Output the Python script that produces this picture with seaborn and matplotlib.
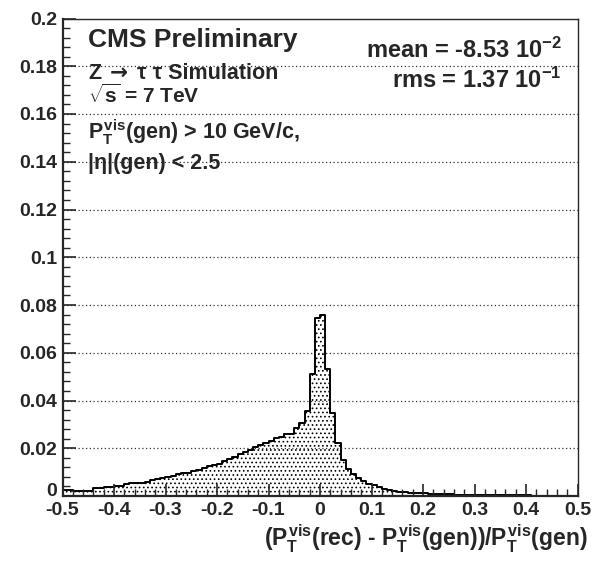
import numpy as np
import pandas as pd
import matplotlib
matplotlib.use("Agg")
import matplotlib.pyplot as plt
import seaborn as sns
from matplotlib.ticker import FixedLocator, MultipleLocator

# ---- data (bin contents) ----
bin_lo = -0.5
bin_hi = 0.5
n_bins = 100
bin_values = [
    0.0027, 0.0027, 0.0023, 0.0023, 0.0023, 0.0023, 0.0033, 0.0033, 0.0037, 0.0037,
    0.0043, 0.0043, 0.0050, 0.0054, 0.0054, 0.0054, 0.0058, 0.0068, 0.0072, 0.0075,
    0.0079, 0.0083, 0.0093, 0.0095, 0.0097, 0.0103, 0.0107, 0.0117, 0.0125, 0.0128,
    0.0135, 0.0146, 0.0156, 0.0164, 0.0177, 0.0186, 0.0194, 0.0205, 0.0212, 0.0221,
    0.0230, 0.0244, 0.0249, 0.0260, 0.0260, 0.0284, 0.0305, 0.0358, 0.0512, 0.0747,
    0.0757, 0.0533, 0.0347, 0.0221, 0.0152, 0.0114, 0.0093, 0.0075, 0.0062, 0.0051,
    0.0044, 0.0036, 0.0030, 0.0026, 0.0023, 0.0018, 0.0015, 0.0013, 0.0012, 0.0012,
    0.0012, 0.0008, 0.0008, 0.0008, 0.0008, 0.0008, 0.0004, 0.0004, 0.0004, 0.0004,
    0.0004, 0.0004, 0.0004, 0.0004, 0.0004, 0.0004, 0.0004, 0.0004, 0.0004, 0.0004,
    0.0004, 0.0, 0.0, 0.0, 0.0, 0.0, 0.0, 0.0, 0.0, 0.0,
]
x_ticks = [-0.5, -0.4, -0.3, -0.2, -0.1, 0.0, 0.1, 0.2, 0.3, 0.4, 0.5]
x_tick_labels = ["-0.5", "-0.4", "-0.3", "-0.2", "-0.1", "0", "0.1", "0.2", "0.3", "0.4", "0.5"]
y_ticks = [0.0, 0.02, 0.04, 0.06, 0.08, 0.1, 0.12, 0.14, 0.16, 0.18, 0.2]
y_tick_labels = ["0", "0.02", "0.04", "0.06", "0.08", "0.1", "0.12", "0.14", "0.16", "0.18", "0.2"]

edges = [float(e) for e in np.linspace(bin_lo, bin_hi, n_bins + 1)]
centers = [0.5 * (edges[i] + edges[i + 1]) for i in range(n_bins)]
df = pd.DataFrame({"x": centers, "w": bin_values})

# ---- style ----
sns.set_style("ticks")
plt.rcParams["font.family"] = ["Liberation Sans", "DejaVu Sans"]
plt.rcParams["font.weight"] = "bold"
plt.rcParams["mathtext.fontset"] = "custom"
plt.rcParams["mathtext.rm"] = "Liberation Sans:bold"
plt.rcParams["mathtext.it"] = "Liberation Sans:bold"
plt.rcParams["mathtext.bf"] = "Liberation Sans:bold"
plt.rcParams["mathtext.sf"] = "Liberation Sans:bold"
plt.rcParams["hatch.color"] = "#444444"
plt.rcParams["hatch.linewidth"] = 0.7

W, H = 593, 563
fig = plt.figure(figsize=(W / 100, H / 100), dpi=100)
ax = fig.add_axes([62.5 / W, 1 - 496 / H, (577.5 - 62.5) / W, (496 - 18.5) / H])

sns.histplot(data=df, x="x", weights="w", bins=edges, element="step", fill=True,
             color="black", linewidth=1.4, ax=ax)
for coll in ax.collections:
    coll.set_facecolor("none")
    coll.set_edgecolor("black")
    coll.set_hatch("....")
    coll.set_zorder(2)

ax.set_xlim(bin_lo, bin_hi)
ax.set_ylim(0, 0.2)
ax.xaxis.set_major_locator(FixedLocator(x_ticks))
ax.set_xticklabels(x_tick_labels)
ax.xaxis.set_minor_locator(MultipleLocator(0.02))
ax.yaxis.set_major_locator(FixedLocator(y_ticks))
ax.set_yticklabels(y_tick_labels)
ax.yaxis.set_minor_locator(MultipleLocator(0.004))
ax.tick_params(axis="both", which="major", direction="in", length=9, width=1.2,
               labelsize=14, pad=4)
ax.tick_params(axis="both", which="minor", direction="in", length=5, width=1.0)
ax.tick_params(axis="both", top=False, right=False, which="both")
for lab in ax.get_xticklabels() + ax.get_yticklabels():
    lab.set_fontweight("bold")
ax.get_yticklabels()[0].set_va("baseline")

ax.yaxis.grid(True, which="major", linestyle=(0, (1, 2)), color="#333333", linewidth=0.9)
ax.set_axisbelow(False)
ax.set_xlabel("")
ax.set_ylabel("")

for side in ["left", "bottom"]:
    ax.spines[side].set_linewidth(1.6)
for side in ["right", "top"]:
    ax.spines[side].set_linewidth(1.0)
    ax.spines[side].set_visible(True)

def ft(x, y, s, size, ha="left", family=None):
    return fig.text(x / W, 1 - y / H, s, fontsize=size, ha=ha, va="baseline",
                    fontweight="bold",
                    family=family or ["Liberation Sans", "DejaVu Sans"])

ft(88, 47, "CMS Preliminary", 19)

# "Z -> tau tau Simulation" line, arrow from DejaVu Sans
renderer = fig.canvas.get_renderer()
t1 = ft(88, 79, "Z", 15.5)
x_after = t1.get_window_extent(renderer).x1 + 9
t2 = ft(x_after, 79, "→", 15.5, family=["DejaVu Sans"])
x_after = t2.get_window_extent(renderer).x1 + 9
ft(x_after, 79, "τ τ Simulation", 15.5)

ft(88, 103, r"$\sqrt{s}$ = 7 TeV", 15)
ft(88, 139, r"$P_{T}^{vis}$(gen) > 10 GeV/c,", 15.5)
ft(88, 169, "|η|(gen) < 2.5", 15.5)
ft(562, 58, r"mean = -8.53 10$^{-2}$", 17, ha="right")
ft(562, 88, r"rms = 1.37 10$^{-1}$", 17, ha="right")

fig.text(588 / W, 1 - 539 / H,
         r"($P_{T}^{vis}$(rec) - $P_{T}^{vis}$(gen))/$P_{T}^{vis}$(gen)",
         fontsize=16.5, ha="right", va="center", fontweight="bold")

fig.savefig("out.png", dpi=100)
